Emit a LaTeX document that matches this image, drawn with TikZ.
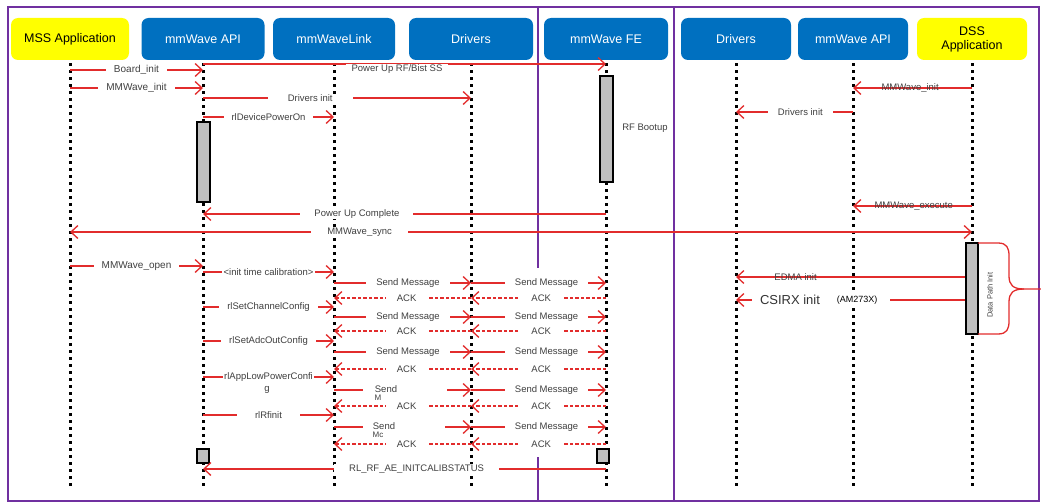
\documentclass[tikz,border=0pt]{standalone}
\usepackage{fontspec}
\setmainfont{Liberation Sans}
\usetikzlibrary{arrows.meta}
\definecolor{hblue}{RGB}{0,112,192}
\definecolor{hyel}{RGB}{255,255,0}
\definecolor{fpurple}{RGB}{112,48,160}
\definecolor{ared}{RGB}{226,44,44}
\definecolor{tgray}{RGB}{64,64,64}
\definecolor{agray}{RGB}{191,191,191}
\begin{document}
\begin{tikzpicture}[x=1pt,y=-1pt,
  hdr/.style={rounded corners=7pt, minimum height=42pt, inner sep=0pt, align=center,
     font=\fontsize{12.5}{14}\selectfont},
  hb/.style={hdr, fill=hblue, text=white},
  hy/.style={hdr, fill=hyel, text=black},
  life/.style={line width=3pt, dash pattern=on 3pt off 4pt},
  frame/.style={draw=fpurple, line width=2.5pt},
  msg/.style={draw=ared, line width=1.3pt, -{Straight Barb[length=7pt,width=13pt]}},
  ack/.style={msg, dash pattern=on 3.5pt off 2pt},
  lbl/.style={font=\fontsize{9.5}{11}\selectfont, text=tgray, fill=white, inner xsep=8pt, inner ysep=1pt},
  lbll/.style={lbl, font=\fontsize{10}{11}\selectfont},
  lblnf/.style={font=\fontsize{9.5}{11}\selectfont, text=tgray, inner sep=1pt},
  gap/.style={fill=white, inner sep=0pt, minimum height=12pt},
  act/.style={draw=black, line width=2pt, fill=agray, inner sep=0pt},
]
\useasboundingbox (0,0) rectangle (1041,503);

% frame
\draw[frame] (8,7) rectangle (1039,501);
\draw[frame] (538,7) -- (538,268);
\draw[frame] (538,457) -- (538,501);
\draw[frame] (674,7) -- (674,501);

% headers
\node[hy, minimum width=118pt] (mss)  at (70,39)  {MSS Application};
\node[hb, minimum width=123pt] (api)  at (203,39) {mmWave API};
\node[hb, minimum width=122pt] (link) at (334,39) {mmWaveLink};
\node[hb, minimum width=124pt] (drv)  at (471,39) {Drivers};
\node[hb, minimum width=124pt] (fe)   at (606,39) {mmWave FE};
\node[hb, minimum width=110pt] (drv2) at (736,39) {Drivers};
\node[hb, minimum width=110pt] (api2) at (853,39) {mmWave API};
\node[hy, minimum width=110pt] (dss)  at (972,39) {DSS\\Application};

% lifelines
\foreach \n in {mss,api,link,drv,fe,drv2,api2,dss}
  \draw[life] (\n.south) ++(0,3) -- (\n |- 0,490);

% activation boxes
\node[act, minimum width=13pt, minimum height=80pt]  (apiact) at (203,162) {};
\node[act, minimum width=13pt, minimum height=106pt] (feact)  at (606,129) {};
\node[act, minimum width=12pt, minimum height=91pt]  (dssact) at (972,288.5) {};
\node[act, minimum width=12pt, minimum height=14pt]  (apiend) at (203,456) {};
\node[act, minimum width=12pt, minimum height=14pt]  (feend)  at (603,456) {};

\node[lblnf] (rfb) at (645,128) {RF Bootup};
\node[lblnf, font=\fontsize{7.5}{9}\selectfont, rotate=90] (dpi) at (990,295) {Data Path Init};

% left part messages
\draw[msg] (mss|-0,70) -- node[lbll]{Board\_init} (api|-0,70);
\draw[msg] (mss|-0,88) -- node[lbll]{MMWave\_init} (api|-0,88);
\draw[msg] (api|-0,64) -- (fe|-0,64);
\node[lbl, inner xsep=6pt] (purf) at (397,69) {Power Up RF/Bist SS};
\draw[msg] (api|-0,98) -- node[lbl, pos=0.4, inner xsep=20pt]{Drivers init} (drv|-0,98);
\draw[msg] (api|-0,117) -- node[lbl]{rlDevicePowerOn} (link|-0,117);
\draw[msg] (fe|-0,214) -- node[lbl, pos=0.618, inner xsep=14pt]{Power Up Complete} (api|-0,214);
\draw[draw=ared, line width=1.3pt, {Straight Barb[length=7pt,width=13pt]}-{Straight Barb[length=7pt,width=13pt]}]
   (mss|-0,232) -- node[lbl, pos=0.321, inner xsep=16pt]{MMWave\_sync} (dss|-0,232);

% right part messages
\draw[msg] (dss|-0,88) -- node[lblnf, pos=0.52]{MMWave\_init} (api2|-0,88);
\draw[msg] (api2|-0,112) -- node[lbl, pos=0.45, inner xsep=10pt]{Drivers init} (drv2|-0,112);
\draw[msg] (dss|-0,206) -- node[lblnf, pos=0.49]{MMWave\_execute} (api2|-0,206);
\draw[msg] (dssact.west|-0,277) -- node[lblnf, pos=0.74]{EDMA init} (drv2|-0,277);
\draw[msg] (dssact.west|-0,300) -- node[gap, pos=0.63, minimum width=138pt]{} (drv2|-0,300);
\node[font=\fontsize{13}{15}\selectfont, text=tgray!80!black, inner sep=0pt] (csi) at (790,300) {CSIRX init};
\node[font=\fontsize{9}{11}\selectfont, text=black, inner sep=0pt] (am) at (857,300) {(AM273X)};

% brace
\draw[ared, line width=1.3pt] (978,243) -- (998,243) .. controls (1007,243) and (1009,248) .. (1009,256)
   -- (1009,276) .. controls (1009,285) and (1013,289) .. (1024,289) -- (1041,289);
\draw[ared, line width=1.3pt] (978,334) -- (998,334) .. controls (1007,334) and (1009,329) .. (1009,321)
   -- (1009,302) .. controls (1009,293) and (1013,289) .. (1024,289);

% init sequence
\draw[msg] (mss|-0,266) -- node[lbll]{MMWave\_open} (api|-0,266);
\draw[msg] (api|-0,272) -- node[lbl, inner xsep=1.5pt]{<init time calibration>} (link|-0,272);
\draw[msg] (api|-0,307) -- node[lbl]{rlSetChannelConfig} (link|-0,307);
\draw[msg] (api|-0,341) -- node[lbl]{rlSetAdcOutConfig} (link|-0,341);
\draw[msg] (api|-0,377) -- node[lbl, inner xsep=1.5pt]{rlAppLowPowerConfi} (link|-0,377);
\node[lblnf] (gch) at (267,390) {g};
\draw[msg] (api|-0,415) -- node[lbl, inner xsep=18pt]{rlRfinit} (link|-0,415);

% send / ack pairs
\foreach \ys in {283, 317, 352} {
  \draw[msg] (link|-0,\ys) -- node[lbl, pos=0.54, inner xsep=10pt]{Send Message} (drv|-0,\ys);
}
\foreach \ys in {283, 317, 352, 390, 427} {
  \draw[msg] (drv|-0,\ys) -- node[lbl, pos=0.56, inner xsep=10pt]{Send Message} (fe|-0,\ys);
}
\draw[msg] (link|-0,390) -- node[gap, pos=0.52, minimum width=84pt, minimum height=10pt]{} (drv|-0,390);
\node[lblnf] (s4) at (386,389) {Send};
\node[lblnf, font=\fontsize{8}{9}\selectfont] (m4) at (378,398) {M};
\draw[msg] (link|-0,427) -- node[gap, pos=0.51, minimum width=82pt, minimum height=10pt]{} (drv|-0,427);
\node[lblnf] (s5) at (384,426) {Send};
\node[lblnf, font=\fontsize{8}{9}\selectfont] (m5) at (378,435) {Mc};
\foreach \ya in {298, 331, 369, 406, 444} {
  \draw[ack] (fe|-0,\ya) -- node[lbl, pos=0.48, inner xsep=11pt]{ACK} (drv|-0,\ya);
  \draw[ack] (drv|-0,\ya) -- node[lbl, pos=0.47, inner xsep=11pt]{ACK} (link|-0,\ya);
}

\draw[msg] (fe|-0,469) -- node[lbl, pos=0.47, inner xsep=15pt]{RL\_RF\_AE\_INITCALIBSTATUS} (api|-0,469);
\end{tikzpicture}
\end{document}
